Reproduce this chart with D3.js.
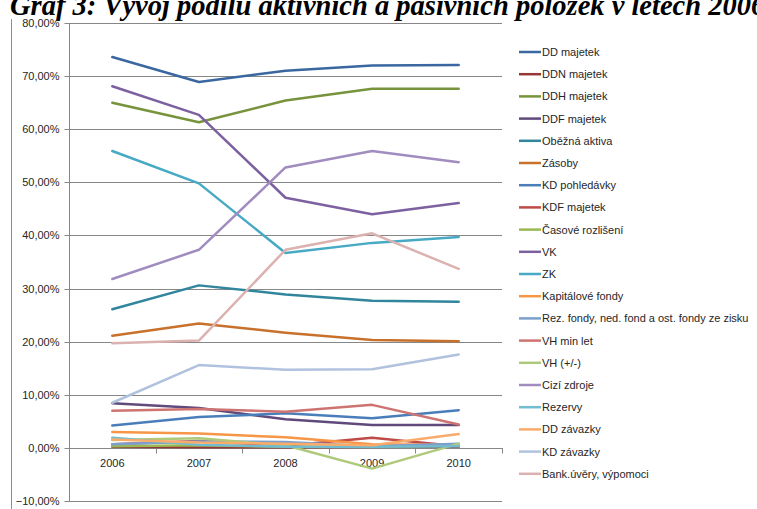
<!DOCTYPE html>
<html>
<head>
<meta charset="utf-8">
<script src="https://cdn.jsdelivr.net/npm/d3@7"></script>
<style>
  html, body { margin: 0; padding: 0; background: #fff; overflow: hidden; }
  svg { display: block; }
  .title { font-family: "Liberation Serif", "Times New Roman", serif; font-weight: bold; font-style: italic; }
  .ax text, .legend text { font-family: "Liberation Sans", Arial, sans-serif; fill: #262626; }
</style>
</head>
<body>
<svg id="chart" width="757" height="509"></svg>
<script>
// Years on the category axis
const years = ["2006", "2007", "2008", "2009", "2010"];

// Share of each item in total assets / liabilities, in percent
const ddMajetek      = [73.6, 68.9, 71.0, 72.0, 72.1];
const ddnMajetek     = [0.2, 0.1, 0.1, 0.2, 0.2];
const ddhMajetek     = [65.0, 61.3, 65.4, 67.6, 67.6];
const ddfMajetek     = [8.4, 7.5, 5.4, 4.3, 4.3];
const obeznaAktiva   = [26.1, 30.6, 28.9, 27.7, 27.5];
const zasoby         = [21.1, 23.4, 21.7, 20.3, 20.1];
const kdPohledavky   = [4.2, 5.8, 6.5, 5.6, 7.1];
const kdfMajetek     = [0.7, 1.3, 0.4, 1.9, 0.3];
const casoveRozliseni= [0.3, 0.5, 0.2, 0.2, 0.4];
const vk             = [68.1, 62.7, 47.1, 44.0, 46.1];
const zk             = [55.9, 49.8, 36.7, 38.6, 39.7];
const kapitaloveFondy= [3.0, 2.7, 2.0, 0.7, 0.6];
const rezFondy       = [0.7, 1.2, 1.1, 0.3, 0.8];
const vhMinLet       = [7.0, 7.3, 6.8, 8.1, 4.4];
const vhBezne        = [1.5, 1.8, 0.5, -3.9, 0.8];
const ciziZdroje     = [31.8, 37.3, 52.8, 55.9, 53.8];
const rezervy        = [1.9, 0.6, 0.2, 0.2, 0.3];
const ddZavazky      = [1.6, 1.0, 0.8, 0.5, 2.6];
const kdZavazky      = [8.5, 15.6, 14.7, 14.8, 17.6];
const bankUvery      = [19.7, 20.2, 37.3, 40.4, 33.7];

// Series names as shown in the legend
const seriesNames = [
  "DD majetek", "DDN majetek", "DDH majetek", "DDF majetek", "Oběžná aktiva",
  "Zásoby", "KD pohledávky", "KDF majetek", "Časové rozlišení", "VK",
  "ZK", "Kapitálové fondy", "Rez. fondy, ned. fond a ost. fondy ze zisku", "VH min let", "VH (+/-)",
  "Cizí zdroje", "Rezervy", "DD závazky", "KD závazky", "Bank.úvěry, výpomoci"
];
const seriesValues = [
  ddMajetek, ddnMajetek, ddhMajetek, ddfMajetek, obeznaAktiva,
  zasoby, kdPohledavky, kdfMajetek, casoveRozliseni, vk,
  zk, kapitaloveFondy, rezFondy, vhMinLet, vhBezne,
  ciziZdroje, rezervy, ddZavazky, kdZavazky, bankUvery
];

// Line colours
const seriesColors = [
  "#3a67a0", "#953735", "#77933c", "#604a7b", "#31859c",
  "#c8712c", "#4a7ebb", "#be4b48", "#98b954", "#7d60a0",
  "#46aac5", "#f79646", "#7ba0cd", "#cd7371", "#afc97a",
  "#a08cbf", "#72bcd0", "#f9ab6b", "#b1c2df", "#dbb2b0"
];

// Y axis tick values
const yTicks = [-10, 0, 10, 20, 30, 40, 50, 60, 70, 80];

const series = seriesNames.map((name, i) => ({ name, values: seriesValues[i], color: seriesColors[i] }));

const svg = d3.select("#chart");
const plot = { left: 69, right: 502, top: 23, bottom: 501 };

// Title, partly above the page edge
svg.append("text")
  .attr("class", "title")
  .attr("x", 10)
  .attr("y", 15)
  .attr("font-size", 28.5)
  .attr("fill", "#000")
  .text("Graf 3: Vývoj podílu aktivních a pasivních položek v letech 2006-2010");

// Chart frame edge
svg.append("line")
  .attr("x1", 11.5).attr("x2", 11.5)
  .attr("y1", 19).attr("y2", 509)
  .attr("stroke", "#8c8c8c").attr("stroke-width", 1);

const x = d3.scaleBand().domain(years).range([plot.left, plot.right]).padding(0);
const y = d3.scaleLinear().domain([-10, 80]).range([plot.bottom, plot.top]);
const cx = d => x(d) + x.bandwidth() / 2;

// Horizontal gridlines
svg.append("g")
  .selectAll("line")
  .data(yTicks.filter(v => v !== 0))
  .join("line")
  .attr("x1", plot.left).attr("x2", plot.right)
  .attr("y1", d => Math.round(y(d)) + 0.5).attr("y2", d => Math.round(y(d)) + 0.5)
  .attr("stroke", "#878787").attr("stroke-width", 1);

// Y axis
const yAxis = d3.axisLeft(y)
  .tickValues(yTicks)
  .tickSize(5)
  .tickPadding(5)
  .tickFormat(d => d3.format(".2f")(d).replace(".", ",") + "%");
const gy = svg.append("g")
  .attr("class", "ax")
  .attr("transform", `translate(${plot.left + 0.5},0)`)
  .call(yAxis);
gy.selectAll(".tick").attr("transform", d => `translate(0,${Math.round(y(d)) + 0.5})`);
gy.select(".domain").attr("stroke", "#878787").attr("d", `M0,${Math.round(plot.top)}V${Math.round(plot.bottom) + 1}`);
gy.selectAll(".tick line").attr("stroke", "#878787");
gy.selectAll("text").attr("font-size", 11);

// X axis at zero, labels centred on each year
const x0 = Math.round(y(0)) + 0.5;
const xAxis = d3.axisBottom(x).tickSize(0).tickPadding(11);
const gx = svg.append("g")
  .attr("class", "ax")
  .attr("transform", `translate(0,${x0})`)
  .call(xAxis);
gx.select(".domain").attr("stroke", "#878787").attr("d", `M${plot.left},0H${plot.right + 1}`);
gx.selectAll("text").attr("font-size", 11);

// Tick marks between the years
gx.append("g")
  .selectAll("line")
  .data(years)
  .join("line")
  .attr("x1", d => Math.round(x(d) + x.bandwidth()) + 0.5)
  .attr("x2", d => Math.round(x(d) + x.bandwidth()) + 0.5)
  .attr("y1", 0).attr("y2", 5)
  .attr("stroke", "#878787");

// Series lines
const line = d3.line()
  .x((d, i) => cx(years[i]))
  .y(d => y(d));

svg.append("g")
  .selectAll("path")
  .data(series)
  .join("path")
  .attr("d", s => line(s.values))
  .attr("fill", "none")
  .attr("stroke", s => s.color)
  .attr("stroke-width", 2.5)
  .attr("stroke-linejoin", "round")
  .attr("stroke-linecap", "round");

// Legend
const legend = svg.append("g").attr("class", "legend");
const rowStep = 22.2;
const items = legend.selectAll("g")
  .data(series)
  .join("g")
  .attr("transform", (d, i) => `translate(519,${52 + i * rowStep})`);
items.append("line")
  .attr("x1", 0).attr("x2", 22)
  .attr("stroke", d => d.color)
  .attr("stroke-width", 2.5);
items.append("text")
  .attr("x", 23)
  .attr("y", 4)
  .attr("font-size", 11)
  .text(d => d.name);
</script>
</body>
</html>
